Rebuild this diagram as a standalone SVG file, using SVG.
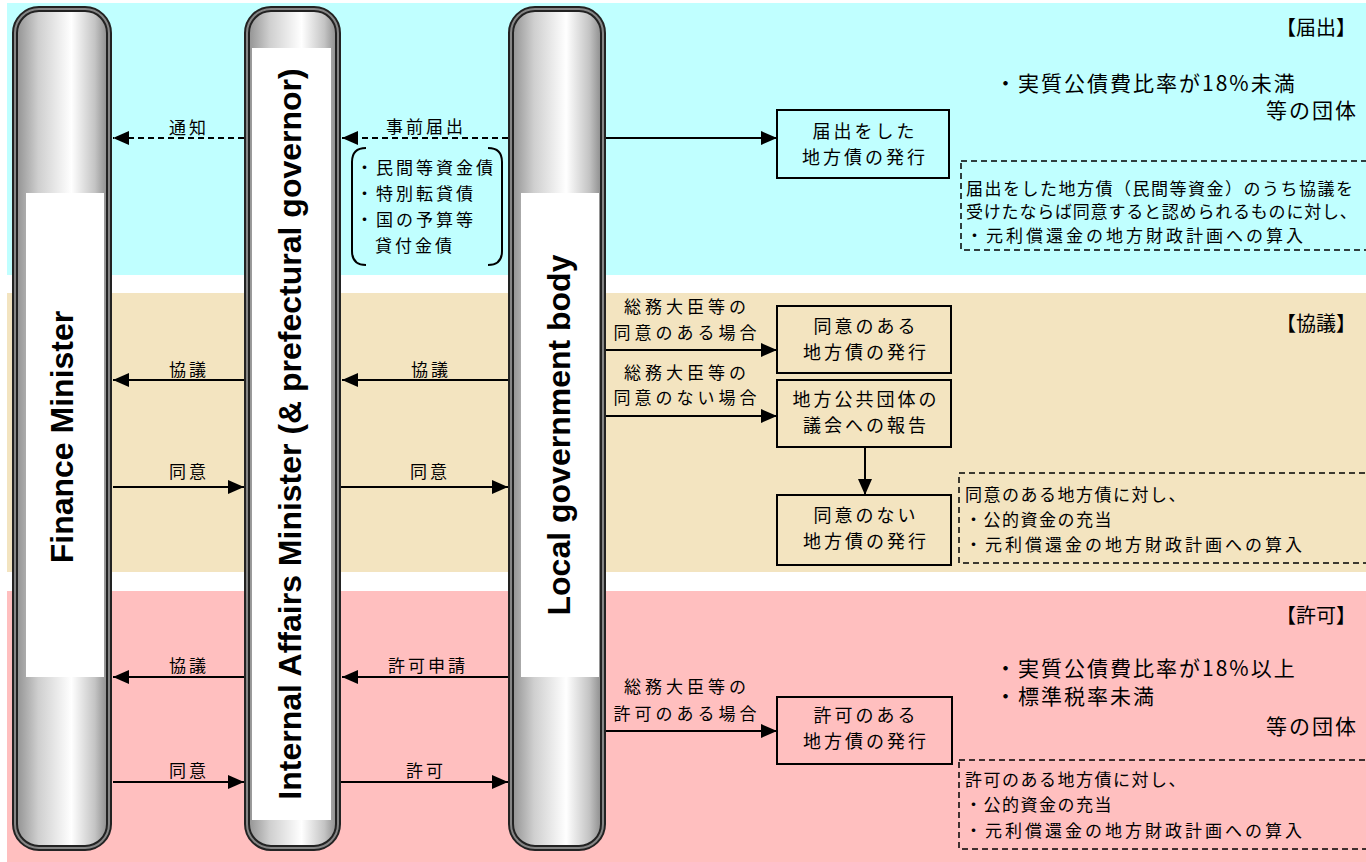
<svg xmlns="http://www.w3.org/2000/svg" width="1366" height="862" viewBox="0 0 1366 862">
<defs>
<linearGradient id="tube" x1="0" y1="0" x2="1" y2="0">
<stop offset="0" stop-color="#8e8e8e"/>
<stop offset="0.25" stop-color="#cfcfcf"/>
<stop offset="0.6" stop-color="#ffffff"/>
<stop offset="0.85" stop-color="#c4c4c4"/>
<stop offset="1" stop-color="#858585"/>
</linearGradient>
<marker id="ah" viewBox="0 0 16 14" refX="16" refY="7" markerWidth="16" markerHeight="14" markerUnits="userSpaceOnUse" orient="auto"><path d="M0,0 L16,7 L0,14 z" fill="#000"/></marker>
<style>
.jp{font-family:"Noto Sans CJK JP","Noto Sans CJK SC",sans-serif;fill:#000}
.lbl{font-size:17px;letter-spacing:3px;text-anchor:middle}
.cond{font-size:17px;letter-spacing:4px;text-anchor:middle}
.bx{font-size:18px;letter-spacing:3px;text-anchor:middle}
.note{font-size:17px;letter-spacing:1.5px}
.note2{font-size:17px;letter-spacing:3px}
.big{font-size:21px;letter-spacing:2px}
.hdr{font-size:20px;text-anchor:end}
.en{font-family:"Liberation Sans",Arial,sans-serif;font-weight:bold;font-size:32px;text-anchor:middle;fill:#000}
.tube{fill:url(#tube);stroke:#222;stroke-width:6}
.tubehl{fill:none;stroke:#fff;stroke-opacity:0.45;stroke-width:2}
.node{fill:none;stroke:#000;stroke-width:2}
.dash{fill:none;stroke:#000;stroke-width:1.5;stroke-dasharray:6 4}
.ln{stroke:#000;stroke-width:2;fill:none}
.dln{stroke:#000;stroke-width:2;fill:none;stroke-dasharray:6 4}
</style>
</defs>
<rect width="1366" height="862" fill="#fff"/>
<g id="bands">
<rect x="7" y="3" width="1359" height="272" fill="#c0ffff"/>
<rect x="7" y="293" width="1359" height="279" fill="#f3e4c0"/>
<rect x="7" y="591" width="1359" height="271" fill="#ffbfbf"/>
</g>
<g id="finance-minister">
<rect class="tube" x="15" y="9" width="94" height="839" rx="24"/>
<rect class="tubehl" x="15" y="9" width="94" height="839" rx="24"/>
<rect x="26" y="193" width="78" height="484" fill="#fff"/>
<text class="en" transform="translate(73,437) rotate(-90)">Finance Minister</text>
</g>
<g id="internal-affairs">
<rect class="tube" x="247" y="9" width="91" height="839" rx="24"/>
<rect class="tubehl" x="247" y="9" width="91" height="839" rx="24"/>
<rect x="252" y="48" width="79" height="772" fill="#fff"/>
<text class="en" transform="translate(301,434) rotate(-90)">Internal Affairs Minister (&amp; prefectural governor)</text>
</g>
<g id="local-government">
<rect class="tube" x="511" y="9" width="92" height="839" rx="24"/>
<rect class="tubehl" x="511" y="9" width="92" height="839" rx="24"/>
<rect x="521" y="193" width="78" height="484" fill="#fff"/>
<text class="en" transform="translate(570,435) rotate(-90)">Local government body</text>
</g>
<g id="connectors">
<line class="dln" x1="244" y1="138" x2="113" y2="138" marker-end="url(#ah)"/>
<line class="dln" x1="508" y1="138" x2="342" y2="138" marker-end="url(#ah)"/>
<line class="ln" x1="606" y1="138" x2="777" y2="138" marker-end="url(#ah)"/>
<line class="ln" x1="244" y1="380" x2="113" y2="380" marker-end="url(#ah)"/>
<line class="ln" x1="508" y1="380" x2="342" y2="380" marker-end="url(#ah)"/>
<line class="ln" x1="113" y1="487" x2="244" y2="487" marker-end="url(#ah)"/>
<line class="ln" x1="341" y1="487" x2="508" y2="487" marker-end="url(#ah)"/>
<line class="ln" x1="606" y1="350" x2="777" y2="350" marker-end="url(#ah)"/>
<line class="ln" x1="606" y1="416" x2="777" y2="416" marker-end="url(#ah)"/>
<line class="ln" x1="865" y1="447" x2="865" y2="495" marker-end="url(#ah)"/>
<line class="ln" x1="244" y1="677" x2="113" y2="677" marker-end="url(#ah)"/>
<line class="ln" x1="508" y1="677" x2="342" y2="677" marker-end="url(#ah)"/>
<line class="ln" x1="113" y1="782" x2="244" y2="782" marker-end="url(#ah)"/>
<line class="ln" x1="341" y1="782" x2="508" y2="782" marker-end="url(#ah)"/>
<line class="ln" x1="606" y1="731" x2="777" y2="731" marker-end="url(#ah)"/>
<text class="jp lbl" x="189" y="134">通知</text>
<text class="jp lbl" x="426" y="133">事前届出</text>
<text class="jp lbl" x="189" y="376">協議</text>
<text class="jp lbl" x="431" y="376">協議</text>
<text class="jp lbl" x="189" y="478">同意</text>
<text class="jp lbl" x="430" y="478">同意</text>
<text class="jp lbl" x="189" y="672">協議</text>
<text class="jp lbl" x="428" y="672">許可申請</text>
<text class="jp lbl" x="189" y="777">同意</text>
<text class="jp lbl" x="426" y="777">許可</text>
<text class="jp cond" x="687" y="313">総務大臣等の</text>
<text class="jp cond" x="687" y="339">同意のある場合</text>
<text class="jp cond" x="687" y="379">総務大臣等の</text>
<text class="jp cond" x="687" y="404">同意のない場合</text>
<text class="jp cond" x="687" y="693">総務大臣等の</text>
<text class="jp cond" x="687" y="720">許可のある場合</text>
</g>
<g id="bond-types">
<path class="ln" d="M366,148 Q352,148 352,162 L352,251 Q352,265 366,265"/>
<path class="ln" d="M488,148 Q502,148 502,162 L502,251 Q502,265 488,265"/>
<text class="jp" font-size="17" letter-spacing="3" x="356" y="174">・民間等資金債</text>
<text class="jp" font-size="17" letter-spacing="3" x="356" y="200">・特別転貸債</text>
<text class="jp" font-size="17" letter-spacing="3" x="356" y="226">・国の予算等</text>
<text class="jp" font-size="17" letter-spacing="3" x="375" y="252">貸付金債</text>
</g>
<g id="node-todokede">
<rect class="node" x="777" y="110" width="172" height="68"/>
<text class="jp bx" x="865" y="138">届出をした</text>
<text class="jp bx" x="865" y="164">地方債の発行</text>
</g>
<g id="node-doui-aru">
<rect class="node" x="777" y="306" width="174" height="67"/>
<text class="jp bx" x="866" y="333">同意のある</text>
<text class="jp bx" x="866" y="359">地方債の発行</text>
</g>
<g id="node-gikai">
<rect class="node" x="777" y="380" width="174" height="67"/>
<text class="jp bx" x="866" y="406">地方公共団体の</text>
<text class="jp bx" x="866" y="432">議会への報告</text>
</g>
<g id="node-doui-nai">
<rect class="node" x="777" y="495" width="174" height="70"/>
<text class="jp bx" x="866" y="522">同意のない</text>
<text class="jp bx" x="866" y="548">地方債の発行</text>
</g>
<g id="node-kyoka">
<rect class="node" x="777" y="697" width="175" height="67"/>
<text class="jp bx" x="866" y="722">許可のある</text>
<text class="jp bx" x="866" y="748">地方債の発行</text>
</g>
<g id="section-todokede">
<text class="jp hdr" x="1356" y="35">【届出】</text>
<text class="jp big" x="995" y="91">・実質公債費比率が18%未満</text>
<text class="jp big" text-anchor="end" x="1358" y="118">等の団体</text>
<rect class="dash" x="961" y="161" width="420" height="89"/>
<text class="jp note" x="966" y="195">届出をした地方債（民間等資金）のうち協議を</text>
<text class="jp" font-size="17" letter-spacing="0.8" x="966" y="218">受けたならば同意すると認められるものに対し、</text>
<text class="jp note2" x="966" y="242">・元利償還金の地方財政計画への算入</text>
</g>
<g id="section-kyogi">
<text class="jp hdr" x="1356" y="331">【協議】</text>
<rect class="dash" x="959" y="473" width="420" height="90"/>
<text class="jp note" x="965" y="501">同意のある地方債に対し、</text>
<text class="jp note" x="965" y="526">・公的資金の充当</text>
<text class="jp note2" x="965" y="551">・元利償還金の地方財政計画への算入</text>
</g>
<g id="section-kyoka">
<text class="jp hdr" x="1356" y="623">【許可】</text>
<text class="jp big" x="995" y="676">・実質公債費比率が18%以上</text>
<text class="jp big" x="995" y="704">・標準税率未満</text>
<text class="jp big" text-anchor="end" x="1358" y="734">等の団体</text>
<rect class="dash" x="959" y="760" width="420" height="89"/>
<text class="jp note" x="965" y="786">許可のある地方債に対し、</text>
<text class="jp note" x="965" y="811">・公的資金の充当</text>
<text class="jp note2" x="965" y="837">・元利償還金の地方財政計画への算入</text>
</g>
</svg>
